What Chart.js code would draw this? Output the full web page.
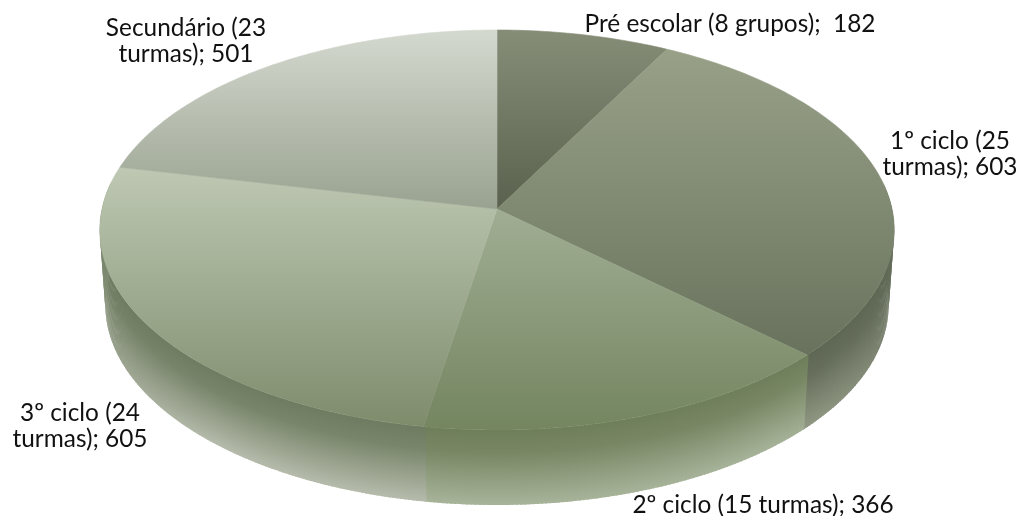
<!DOCTYPE html>
<html>
<head>
<meta charset="utf-8">
<style>
  html, body { margin: 0; padding: 0; background: #fff; }
  canvas { display: block; }
</style>
<script src="https://cdn.jsdelivr.net/npm/chart.js@4"></script>
</head>
<body>
<canvas id="grafico" width="1019" height="516"></canvas>
<script>
const categorias = ["Pré escolar (8 grupos)", "1º ciclo (25 turmas)", "2º ciclo (15 turmas)", "3º ciclo (24 turmas)", "Secundário (23 turmas)"];
const alunos = [182, 603, 366, 605, 501];

// linhas de cada etiqueta, como quebram na figura
const etiquetas = [
  ["Pré escolar (8 grupos);  182"],
  ["1º ciclo (25", "turmas); 603"],
  ["2º ciclo (15 turmas); 366"],
  ["3º ciclo (24", "turmas); 605"],
  ["Secundário (23", "turmas); 501"],
];
const posEtiquetas = [[730, 32], [950, 149], [763, 513], [80, 421], [186, 36]];

// topo de cada fatia: claro em cima, escuro em baixo
const coresTopo = [
  ["#868d77", "#5a624f"],
  ["#98a188", "#69725c"],
  ["#a0ad93", "#748560"],
  ["#bec8b3", "#7e8c6c"],
  ["#d4d9cf", "#99a290"],
];
// parede lateral: escura junto ao topo, clara em baixo
const coresParede = [
  [[91, 99, 80], [91, 99, 80]],
  [[94, 103, 84], [150, 158, 138]],
  [[111, 126, 90], [168, 180, 154]],
  [[110, 123, 96], [182, 188, 172]],
  [[130, 138, 120], [150, 158, 140]],
];

// geometria da perspectiva
const cx = 497, cy = 209;
const raioX = 395, raioY = 197.8, fuga = 0.105;
const altura = 75, encolhe = 0.014;
// correcção da perspectiva do Excel, em graus
const ajuste = [3.19, 1.05, -2.25];

function projeta(ang, baixo) {
  const graus = ajuste[0] * (1 - Math.cos(ang)) + ajuste[1] * Math.sin(ang) + ajuste[2] * Math.sin(2 * ang);
  const t = ang + graus * Math.PI / 180;
  const x = Math.sin(t), y = Math.cos(t);
  const w = 1 + fuga * y;
  const esc = baixo ? 1 - encolhe : 1;
  return { x: cx + raioX * esc * x / w, y: cy - raioY * y / w + (baixo ? altura : 0), frente: -y };
}

function mistura(a, b, f) {
  return `rgb(${a.map((v, i) => Math.round(v + (b[i] - v) * f)).join(",")})`;
}

function desenhaParede(ctx, ini, fim, cor) {
  const passo = Math.PI / 300;
  // começa um pouco antes para tapar a junta com a fatia anterior
  for (let a = ini - passo * 0.5; a < fim; a += passo) {
    // cada tira cobre um pouco da seguinte para não deixar riscas
    const b = Math.min(a + passo * 1.6, fim);
    const p0 = projeta(a, false), p1 = projeta(b, false);
    const q0 = projeta(a, true), q1 = projeta(b, true);
    if (p0.frente < -0.12 && p1.frente < -0.12) continue;
    const f = Math.min(1, 0.25 + Math.max(0, p0.frente));
    const grad = ctx.createLinearGradient(0, Math.min(p0.y, p1.y), 0, Math.max(q0.y, q1.y));
    grad.addColorStop(0, mistura(cor[0], cor[1], 0));
    grad.addColorStop(0.3, mistura(cor[0], cor[1], f * 0.15));
    grad.addColorStop(1, mistura(cor[0], cor[1], f));
    ctx.fillStyle = grad;
    ctx.beginPath();
    ctx.moveTo(p0.x, p0.y);
    ctx.lineTo(p1.x, p1.y);
    ctx.lineTo(q1.x, q1.y);
    ctx.lineTo(q0.x, q0.y);
    ctx.closePath();
    ctx.fill();
  }
}

function desenhaTopo(ctx, ini, fim, cor) {
  const pts = [];
  for (let a = ini; a < fim; a += Math.PI / 180) pts.push(projeta(a, false));
  pts.push(projeta(fim, false));
  const ys = pts.map((p) => p.y).concat(cy);
  const grad = ctx.createLinearGradient(0, Math.min(...ys), 0, Math.max(...ys));
  grad.addColorStop(0, cor[0]);
  grad.addColorStop(1, cor[1]);
  ctx.fillStyle = grad;
  ctx.strokeStyle = grad;
  ctx.lineWidth = 0.6;
  ctx.beginPath();
  ctx.moveTo(cx, cy);
  pts.forEach((p) => ctx.lineTo(p.x, p.y));
  ctx.closePath();
  ctx.fill();
  ctx.stroke();
}

// o Chart.js calcula os ângulos; aqui só se desenham em perspectiva
const pizza3d = {
  id: "pizza3d",
  beforeDatasetDraw(chart, args) {
    const ctx = chart.ctx;
    const arcos = chart.getDatasetMeta(args.index).data;
    const base = Math.PI / 2;
    ctx.save();
    arcos.forEach((arco, i) => {
      desenhaParede(ctx, arco.startAngle + base, arco.endAngle + base, coresParede[i]);
    });
    arcos.forEach((arco, i) => {
      desenhaTopo(ctx, arco.startAngle + base, arco.endAngle + base, coresTopo[i]);
    });
    ctx.restore();
    return false;
  },
  afterDraw(chart) {
    const ctx = chart.ctx;
    ctx.save();
    ctx.font = "24.4px Lato";
    ctx.fillStyle = "#111";
    ctx.textAlign = "center";
    ctx.textBaseline = "alphabetic";
    etiquetas.forEach((linhas, i) => {
      linhas.forEach((txt, j) => {
        ctx.fillText(txt, posEtiquetas[i][0], posEtiquetas[i][1] + j * 26);
      });
    });
    ctx.restore();
  },
};

new Chart(document.getElementById("grafico"), {
  type: "pie",
  data: {
    labels: categorias,
    datasets: [{ data: alunos, backgroundColor: coresTopo.map((c) => c[1]), borderWidth: 0 }],
  },
  options: {
    responsive: false,
    animation: false,
    events: [],
    plugins: { legend: { display: false }, tooltip: { enabled: false } },
  },
  plugins: [pizza3d],
});
</script>
</body>
</html>
